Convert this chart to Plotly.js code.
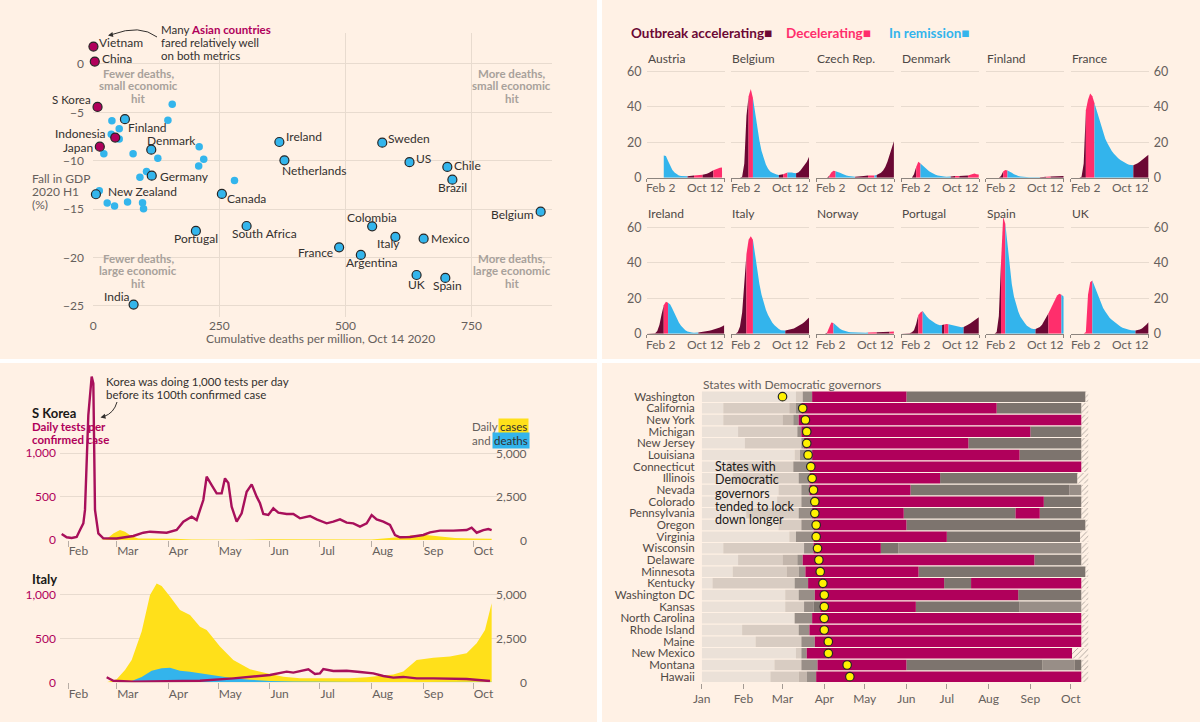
<!DOCTYPE html>
<html>
<head>
<meta charset="utf-8">
<script src="https://cdn.plot.ly/plotly-3.0.1.min.js"></script>
<style>
html,body{margin:0;padding:0;background:#ffffff;}
#chart{width:1200px;height:722px;}
</style>
</head>
<body>
<div id="chart"></div>
<script>
// ======================= DATA =======================
// --- Panel A: cumulative deaths per million vs fall in GDP 2020 H1 ---
const labeledCountries = ["Vietnam","China","S Korea","Indonesia","Japan","Finland","Denmark","Germany","New Zealand","Canada","Portugal","South Africa","India","Ireland","Netherlands","Sweden","US","Chile","Brazil","Belgium","Colombia","Italy","Mexico","France","Argentina","UK","Spain"];
const labeledDeaths = [0.4,3,8.5,43.6,13,62.8,115,116,5.3,255,203.5,304,80,369,379,573,627,702,712,887,553,599,655,487.5,530.5,641,698];
const labeledGdp = [1.8,0.25,-4.44,-7.6,-8.54,-5.7,-8.85,-11.54,-13.46,-13.43,-17.25,-16.74,-24.86,-8.06,-9.95,-8.13,-10.15,-10.64,-11.95,-15.26,-16.77,-17.87,-18.05,-18.94,-19.73,-21.8,-22.1];
const asianCountries = ["Vietnam","China","S Korea","Indonesia","Japan"];
const otherDeaths = [156.6,37,148,51.5,35.7,51.5,210,21,79,128,219,209,105.6,92.5,280,12,27.7,42.2,68,97.7,99.7];
const otherGdp = [-4.16,-5.86,-5.82,-6.7,-7.26,-7.75,-8.54,-9.27,-9.27,-9.74,-9.85,-10.54,-11.12,-11.7,-12.05,-13.09,-14.36,-14.67,-14.26,-14.33,-14.95];
const deathTicks = [0,250,500,750];
const gdpTicks = [0,-5,-10,-15,-20,-25];

// --- Panel B: small multiples, weekly values from Feb 2, phase runs per week interval ---
const smCountries = ["Austria","Belgium","Czech Rep.","Denmark","Finland","France","Ireland","Italy","Norway","Portugal","Spain","UK"];
const smStart = "2020-02-02";
const smEnd = "2020-10-12";
const smTicks = [0,20,40,60];
const austriaVals = [null,null,null,null,null,null,null,null,12.5,12.2,9.4,6.8,4.4,2.9,2.0,1.3,1.0,0.8,0.7,0.8,1.0,1.2,1.3,1.4,1.4,1.5,1.6,1.8,2.2,2.8,3.5,4.2,4.8,5.3,5.6,5.8,null];
const austriaPhases = [["r",19],["a",3],["d",4],["a",5],["d",5]];
const belgiumVals = [0,0,0,0,0,0.5,8,35,46,50,45,36,28,21,15,11,7.5,5,3.5,2.8,2.2,1.8,1.5,1.6,2,2.6,3,3.1,3.0,2.6,2.5,3,4,5.5,7,9,11.8];
const belgiumPhases = [["a",8],["d",2],["r",12],["a",2],["d",2],["r",4],["a",6]];
const czechVals = [0,0,0,0,0,0,1,3,3.9,3.6,3.3,2.8,2.2,1.6,1.2,0.9,0.7,0.6,0.6,0.8,0.9,1.0,1.0,1.1,1.2,1.3,1.3,1.2,1.5,2,2.8,4,6,9,13,17,20.5];
const czechPhases = [["a",6],["d",3],["r",9],["a",6],["d",3],["r",1],["a",8]];
const denmarkVals = [0,0,0,0,0,0,2,6,9,8,6.8,5.6,4.5,3.6,2.9,2.2,1.7,1.3,1.0,0.8,0.7,0.6,0.6,0.7,0.8,0.9,1.0,1.0,1.0,1.1,1.2,1.3,1.6,2.0,2.3,2.0,1.8];
const denmarkPhases = [["a",7],["d",2],["r",14],["a",2],["d",2],["a",4],["d",5]];
const finlandVals = [0,0,0,0,0,0,0,1,3.5,4.3,4.0,3.6,2.8,2.0,1.4,1.0,0.7,0.5,0.4,0.3,0.3,0.3,0.3,0.3,0.3,0.3,0.4,0.5,0.6,0.6,0.7,0.8,0.9,0.9,1.0,1.0,1.0];
const finlandPhases = [["a",8],["d",2],["r",15],["a",3],["d",2],["a",6]];
const franceVals = [0,0,0,0,0,0.5,8,38,44,47.5,46,42,38,33,29,25.5,22,19.5,17,15,13.5,12,11,10,9.2,8.5,7.8,7.3,7.0,7.0,7.5,8.2,9,10,11,12,13];
const francePhases = [["a",7],["d",4],["r",18],["a",7]];
const irelandVals = [0,0,0,0,0.3,1.5,5,11,16,18,17.5,16.5,14,11.5,8.5,6.3,4.5,3.0,2.0,1.3,0.9,0.7,0.6,0.6,0.7,0.8,1.0,1.2,1.4,1.6,1.9,2.2,2.6,3.0,3.5,4.1,4.8];
const irelandPhases = [["a",8],["d",2],["r",14],["a",12]];
const italyVals = [0,0,0,1,4,12,28,45,53,55,53,44,34,28,22,17,13.5,10.5,8,6.2,4.8,3.6,2.6,2.0,1.8,1.8,2.0,2.2,2.5,3.0,3.6,4.2,5.0,5.8,6.8,7.9,9.2];
const italyPhases = [["a",7],["d",3],["r",15],["a",11]];
const norwayVals = [0,0,0,0,0,0.5,3,6.3,6,4.8,3.6,2.8,2.1,1.6,1.2,1.0,0.8,0.7,0.6,0.6,0.5,0.5,0.5,0.5,0.7,0.8,0.8,0.7,0.8,0.8,0.9,0.9,1.0,1.0,1.1,1.2,1.2];
const norwayPhases = [["a",5],["d",3],["r",16],["d",4],["a",6],["d",2]];
const portugalVals = [0,0,0,0,0.2,0.8,2,5.5,10.5,12,12.8,11,9.5,8.3,7.3,6.5,5.8,5.2,4.8,4.9,5.2,5.5,5.3,5.0,4.8,4.5,4.2,3.9,3.7,3.8,4.3,5.0,5.8,6.6,7.5,8.4,9.3];
const portugalPhases = [["a",8],["d",2],["r",9],["a",1],["d",2],["r",7],["a",7]];
const spainVals = [0,0,0,0,0,1,10,40,66,62,50,38,28,21,16,12.5,9.5,7.5,6,4.5,3.5,3.0,2.6,2.6,3.0,3.8,5,7,9,11.5,14,17,19.5,21.5,22.5,22,21];
const spainPhases = [["a",7],["d",2],["r",14],["a",6],["d",6],["r",1]];
const ukVals = [0,0,0,0,0,0,0,1,22,29,30,27,24,20.5,17,14.5,12.5,10.5,9,7.8,6.8,5.8,4.8,4.0,3.4,2.9,2.5,2.2,2.0,1.8,1.8,2.0,2.4,3.0,3.8,5,6.4];
const ukPhases = [["d",10],["r",20],["a",6]];

// --- Panel C: tests per confirmed case and daily cases / deaths ---
const koreaTestDates = ["2020-01-28","2020-01-31","2020-02-03","2020-02-06","2020-02-08","2020-02-10","2020-02-11","2020-02-12","2020-02-13","2020-02-15","2020-02-16","2020-02-17","2020-02-19","2020-02-22","2020-03-01","2020-03-11","2020-03-17","2020-03-21","2020-03-31","2020-04-06","2020-04-10","2020-04-15","2020-04-18","2020-04-22","2020-04-24","2020-04-27","2020-04-30","2020-05-03","2020-05-05","2020-05-07","2020-05-09","2020-05-12","2020-05-15","2020-05-18","2020-05-21","2020-05-24","2020-05-26","2020-05-28","2020-05-31","2020-06-03","2020-06-06","2020-06-11","2020-06-15","2020-06-19","2020-06-25","2020-06-29","2020-07-05","2020-07-09","2020-07-13","2020-07-17","2020-07-21","2020-07-25","2020-07-29","2020-08-01","2020-08-04","2020-08-08","2020-08-12","2020-08-15","2020-08-18","2020-08-24","2020-09-01","2020-09-05","2020-09-11","2020-09-19","2020-09-27","2020-09-30","2020-10-03","2020-10-07","2020-10-10","2020-10-12"];
const koreaTests = [69,31,23,35,115,192,347,1000,1440,1884,1807,346,77,19,17,46,84,96,84,115,211,269,230,461,730,634,538,538,711,657,384,211,308,557,642,500,423,300,288,365,315,300,300,250,277,238,192,211,238,200,192,154,192,288,238,211,173,58,31,35,58,88,108,108,115,142,84,115,127,115];
const koreaCaseDates = ["2020-02-20","2020-02-24","2020-02-28","2020-03-03","2020-03-06","2020-03-10","2020-03-14","2020-03-25","2020-04-05","2020-04-15","2020-05-01","2020-05-15","2020-06-01","2020-06-15","2020-07-01","2020-07-15","2020-08-01","2020-08-15","2020-08-25","2020-09-01","2020-09-10","2020-09-20","2020-10-01","2020-10-12"];
const koreaCases = [0,60,380,580,480,220,90,90,70,30,10,20,40,45,45,40,30,150,270,300,200,110,80,70];
const italyTestDates = ["2020-02-24","2020-02-28","2020-03-11","2020-03-31","2020-04-20","2020-05-10","2020-05-20","2020-06-01","2020-06-11","2020-06-15","2020-06-24","2020-06-28","2020-07-01","2020-07-03","2020-07-09","2020-07-17","2020-07-25","2020-08-02","2020-08-08","2020-08-14","2020-08-20","2020-08-28","2020-09-07","2020-09-27","2020-10-11"];
const italyTests = [57,18,7,11,18,45,64,83,121,110,148,94,102,150,129,132,117,102,72,53,61,45,45,38,15];
const italyCaseDates = ["2020-02-24","2020-03-01","2020-03-06","2020-03-10","2020-03-16","2020-03-21","2020-03-25","2020-03-28","2020-04-02","2020-04-08","2020-04-14","2020-04-20","2020-04-24","2020-05-02","2020-05-10","2020-05-20","2020-05-30","2020-06-09","2020-06-19","2020-07-01","2020-07-19","2020-07-29","2020-08-14","2020-08-20","2020-08-28","2020-09-07","2020-09-17","2020-09-27","2020-10-03","2020-10-08","2020-10-12"];
const italyCases = [0,170,700,1270,2880,4960,5620,5470,4870,4110,3820,3160,2970,2030,1270,740,510,320,230,230,230,280,450,610,1270,1400,1460,1650,2220,2970,4490];
const italyDeathDates = ["2020-02-24","2020-03-01","2020-03-10","2020-03-16","2020-03-22","2020-03-28","2020-04-02","2020-04-08","2020-04-14","2020-04-20","2020-04-26","2020-05-02","2020-05-10","2020-05-20","2020-06-01","2020-06-15","2020-07-01","2020-08-01","2020-09-01","2020-10-12"];
const italyDeaths = [0,5,80,300,650,800,830,650,600,520,430,330,230,150,80,50,25,10,10,30];

// --- Panel D: lockdown stringency by state ---
const states = ["Washington","California","New York","Michigan","New Jersey","Louisiana","Connecticut","Illinois","Nevada","Colorado","Pennsylvania","Oregon","Virginia","Wisconsin","Delaware","Minnesota","Kentucky","Washington DC","Kansas","North Carolina","Rhode Island","Maine","New Mexico","Montana","Hawaii"];
const stateBounds = [
  ["01-01","03-11","03-16","03-23","06-01","10-12"],
  ["01-01","01-17","03-06","03-11","03-15","08-07","10-09"],
  ["01-01","01-17","03-01","03-09","03-13","10-09"],
  ["01-01","01-28","03-12","03-15","09-01","10-09"],
  ["01-01","02-02","03-15","03-17","07-17","10-09"],
  ["01-01","03-10","03-14","03-23","08-24","10-09"],
  ["01-01","01-20","03-09","03-21","10-09"],
  ["01-01","01-24","03-13","03-21","06-26","10-06"],
  ["01-01","02-27","03-15","03-21","06-04","09-30","10-09"],
  ["01-01","02-26","03-15","03-23","09-11","10-09"],
  ["01-01","02-03","03-13","03-23","05-30","08-21","09-08","10-09"],
  ["01-01","02-27","03-15","03-24","06-01","10-12"],
  ["01-01","03-06","03-11","03-24","07-01","10-08"],
  ["01-01","01-17","03-17","03-24","05-13","05-26","10-09"],
  ["01-01","01-28","03-01","03-12","03-16","09-04","10-09"],
  ["01-01","01-24","03-04","03-13","03-18","06-10","10-12"],
  ["01-01","01-09","03-10","03-20","06-29","07-19","10-09"],
  ["01-01","03-03","03-13","03-25","08-23","10-09"],
  ["01-01","03-03","03-17","03-24","03-29","06-08","08-24","10-09"],
  ["01-01","03-10","03-23","10-09"],
  ["01-01","01-31","03-13","03-21","10-09"],
  ["01-01","02-10","03-15","03-25","10-09"],
  ["01-01","03-11","03-15","03-19","10-02"],
  ["01-01","02-24","03-15","03-27","06-01","09-10","10-04","10-09"],
  ["01-01","02-21","03-13","03-19","03-26","10-09"]
];
const stateLevels = [
  [0,1,3,5,4],[0,1,2,3,5,4],[0,1,2,3,5],[0,1,3,5,4],[0,1,3,5,4],[0,1,3,5,4],[0,1,3,5],[0,1,3,5,4],
  [0,1,3,5,4,3],[0,1,3,5,4],[0,1,3,5,4,5,4],[0,1,3,5,4],[0,1,3,5,4],[0,1,3,5,4,3],[0,1,2,3,5,4],
  [0,1,2,3,5,4],[0,1,3,5,4,5],[0,1,3,5,4],[0,1,3,4,5,4,3],[0,3,5],[0,1,3,5],[0,1,3,5],[0,1,3,5],
  [0,1,3,5,4,3,4],[0,1,2,3,5]
];
const stateDots = ["03-01","03-16","03-18","03-19","03-19","03-20","03-22","03-23","03-24","03-25","03-25","03-26","03-26","03-27","03-28","03-29","03-31","04-01","04-01","04-01","04-01","04-04","04-04","04-18","04-20"];
const dataEnd = "10-14";
const monthNames = ["Jan","Feb","Mar","Apr","May","Jun","Jul","Aug","Sep","Oct"];
const monthStarts = ["01-01","02-01","03-01","04-01","05-01","06-01","07-01","08-01","09-01","10-01"];

// ======================= STYLE / HELPERS =======================
const FONT = 'Lato, "Open Sans", sans-serif';
const COL = {
  panel:'#fff1e5', grid:'#e8dbcf', tick:'#66605c', ink:'#33302e', quad:'#a8a19b',
  crimson:'#b0005b', blueDot:'#33b5ec', outline:'#262626',
  acc:'#6b0834', dec:'#ff2e6c', rem:'#33b4ec',
  yellow:'#ffe01a', deaths:'#33b4ec', testLine:'#a8105b'
};
const levelColors = ['#ebe1d8','#d8ccc2','#c3b6ac','#988e87','#7d746e','#b0005b'];
const phaseColor = {a:COL.acc, d:COL.dec, r:COL.rem};

const PX = p => p/1200, PY = p => 1 - p/722;
const layout = {
  width:1200, height:722, autosize:false,
  margin:{l:0,r:0,t:0,b:0,pad:0},
  paper_bgcolor:'#ffffff', plot_bgcolor:'rgba(0,0,0,0)',
  showlegend:false, barmode:'overlay', hovermode:false,
  font:{family:FONT,size:12,color:COL.ink},
  shapes:[], annotations:[]
};
const traces = [];
let nx = 0, ny = 0;
function axisName(ref){ return ref[0]==='x' ? 'xaxis'+ref.slice(1) : 'yaxis'+ref.slice(1); }
function addX(cfg){ nx++; const ref = nx===1?'x':'x'+nx; layout[axisName(ref)] = Object.assign({fixedrange:true}, cfg); return ref; }
function addY(cfg){ ny++; const ref = ny===1?'y':'y'+ny; layout[axisName(ref)] = Object.assign({fixedrange:true}, cfg); return ref; }
function F(size,color,extra){ return Object.assign({family:FONT,size:size,color:color}, extra||{}); }
function txt(t, xpx, ypx, o){
  layout.annotations.push(Object.assign({xref:'paper',yref:'paper',x:PX(xpx),y:PY(ypx),text:t,showarrow:false,
    xanchor:'left',yanchor:'middle',font:F(12,COL.ink)}, o||{}));
}
function lines(arr, xpx, ypx, dy, o){ arr.forEach((t,i)=>txt(t, xpx, ypx+i*dy, o)); }
function doy(md){ const [m,d] = md.split('-').map(Number); return (Date.UTC(2020,m-1,d) - Date.UTC(2020,0,1))/864e5; }
function weekDate(k){ return new Date(Date.UTC(2020,1,2+7*k)).toISOString().slice(0,10); }

// panel backgrounds
[[0,0,597,359],[602,0,1200,359],[0,363,597,722],[602,363,1200,722]].forEach(([x0,y0,x1,y1])=>{
  layout.shapes.push({type:'rect',xref:'paper',yref:'paper',x0:PX(x0),x1:PX(x1),y0:PY(y1),y1:PY(y0),
    fillcolor:COL.panel,line:{width:0},layer:'below'});
});

// ======================= PANEL A =======================
const yA = addY({domain:[PY(317),PY(33)], range:[-26.14,3.2], tickvals:gdpTicks, showgrid:true, gridcolor:COL.grid,
  zeroline:false, showline:false, ticks:'', ticklabelstandoff:8, tickfont:F(12,COL.tick)});
const xA = addX({domain:[PX(93),PX(552)], range:[-0.5,909.5], anchor:yA, tickvals:deathTicks, showgrid:true, gridcolor:COL.grid,
  zeroline:false, showline:false, ticks:'', tickfont:F(12,COL.tick)});
layout[axisName(yA)].anchor = xA;
addY({overlaying:yA, anchor:xA, side:'right', range:[-26.14,3.2], tickvals:gdpTicks, showgrid:false, zeroline:false,
  ticks:'', ticklabelstandoff:4, tickfont:F(12,COL.tick)});

traces.push({type:'scatter',mode:'markers',x:otherDeaths,y:otherGdp,xaxis:xA,yaxis:yA,cliponaxis:false,
  marker:{size:7.5,color:COL.blueDot,line:{width:0}},hoverinfo:'skip'});
traces.push({type:'scatter',mode:'markers',x:labeledDeaths,y:labeledGdp,xaxis:xA,yaxis:yA,cliponaxis:false,
  marker:{size:9,color:labeledCountries.map(c=>asianCountries.includes(c)?COL.crimson:COL.blueDot),line:{width:1.2,color:COL.outline}},
  hoverinfo:'skip'});

const labelPos = {
  "Vietnam":['left',4,4],"China":['left',5,3],"S Korea":['right',-5,7.5],"Indonesia":['right',-7,4],"Japan":['right',-5,-1],
  "Finland":['left',1,-8],"Denmark":['left',-6,9],"Germany":['left',6,-1],"New Zealand":['left',10,3],"Canada":['left',3,-5],
  "Portugal":['center',0,-8],"South Africa":['center',18,-7],"India":['center',-17,8],"Ireland":['left',5,5],
  "Netherlands":['left',-4,-10],"Sweden":['left',4,4],"US":['left',4,4],"Chile":['left',5,1],"Brazil":['center',0,-8],
  "Belgium":['right',-5,-3],"Colombia":['center',0,9],"Italy":['center',-7,-7],"Mexico":['left',5,0],"France":['right',-4,-5],
  "Argentina":['center',11,-8],"UK":['center',0,-10],"Spain":['center',2,-8]
};
labeledCountries.forEach((c,i)=>{
  const [anc,dx,dy] = labelPos[c];
  layout.annotations.push({xref:xA,yref:yA,x:labeledDeaths[i],y:labeledGdp[i],text:c,showarrow:false,
    xanchor:anc,yanchor:'middle',xshift:dx,yshift:dy,font:F(c==='S Korea'?11.5:12,COL.ink)});
});

const quadFont = {font:F(11.5,COL.quad),xanchor:'center'};
lines(['<b>Fewer deaths,</b>','<b>small economic</b>','<b>hit</b>'], 138, 73.3, 12.7, quadFont);
lines(['<b>Fewer deaths,</b>','<b>large economic</b>','<b>hit</b>'], 138, 258.3, 12.6, quadFont);
lines(['<b>More deaths,</b>','<b>small economic</b>','<b>hit</b>'], 511.7, 73.3, 12.7, quadFont);
lines(['<b>More deaths,</b>','<b>large economic</b>','<b>hit</b>'], 511.7, 258.3, 12.6, quadFont);
lines(['Many <b><span style="color:'+COL.crimson+'">Asian countries</span></b>','fared relatively well','on both metrics'], 159, 29.5, 12.9, {font:F(11.5,COL.ink)});
lines(['Fall in GDP','2020 H1','(%)'], 30, 179, 12.7, {font:F(12,COL.tick)});
txt('Cumulative deaths per million, Oct 14 2020', 320, 338.3, {xanchor:'center', font:F(12,COL.tick)});
layout.shapes.push({type:'path',xref:'paper',yref:'paper',
  path:`M ${PX(157)},${PY(37)} Q ${PX(140)},${PY(24)} ${PX(112)},${PY(34.5)}`,line:{color:COL.ink,width:1}});
layout.annotations.push({xref:'paper',yref:'paper',x:PX(108),y:PY(35.5),ax:5,ay:-1,axref:'pixel',ayref:'pixel',
  showarrow:true,arrowhead:2,arrowsize:1,arrowwidth:1,arrowcolor:COL.ink,text:''});

// ======================= PANEL B =======================
const smVals = [austriaVals,belgiumVals,czechVals,denmarkVals,finlandVals,franceVals,irelandVals,italyVals,norwayVals,portugalVals,spainVals,ukVals];
const smPhases = [austriaPhases,belgiumPhases,czechPhases,denmarkPhases,finlandPhases,francePhases,irelandPhases,italyPhases,norwayPhases,portugalPhases,spainPhases,ukPhases];

function phaseSegments(vals, runs){
  const out = []; let i = 0;
  runs.forEach(([p,n])=>{
    const xs = [], ys = [];
    for(let k=i;k<=i+n;k++){ if(vals[k]!==null && vals[k]!==undefined){ xs.push(weekDate(k)); ys.push(vals[k]); } }
    if(xs.length>1) out.push({p, x:xs, y:ys});
    i += n;
  });
  return out;
}

smCountries.forEach((name,idx)=>{
  const row = Math.floor(idx/6), col = idx%6;
  const left = 646.5 + 84.85*col, right = left + 78;
  const top = row===0 ? 67.8 : 213.1, bottom = row===0 ? 177.7 : 333.7;
  const yr = addY({domain:[PY(bottom),PY(top)], range:[0,row===0?62:68], tickvals:smTicks, showgrid:true, gridcolor:COL.grid,
    zeroline:false, showline:false, ticks:'', showticklabels:(col===0||col===5), side:(col===5?'right':'left'),
    ticklabelstandoff:4, tickfont:F(12.5,COL.tick)});
  const xr = addX({domain:[PX(left),PX(right)], anchor:yr, type:'date', range:[smStart,smEnd], tickvals:[smStart,smEnd],
    showticklabels:false, ticks:'outside', ticklen:3, tickcolor:'#8c847e', showline:true, linecolor:'#8c847e', linewidth:1,
    showgrid:false, zeroline:false});
  layout[axisName(yr)].anchor = xr;
  phaseSegments(smVals[idx], smPhases[idx]).forEach(s=>{
    traces.push({type:'scatter',mode:'lines',x:s.x,y:s.y,fill:'tozeroy',fillcolor:phaseColor[s.p],
      line:{width:0,color:phaseColor[s.p]},xaxis:xr,yaxis:yr,hoverinfo:'skip'});
  });
  txt(name, left-1, row===0?58:213.7, {font:F(12,'#4d4845')});
  layout.annotations.push({xref:xr,yref:'paper',x:smStart,y:PY(row===0?188:344),text:'Feb 2',showarrow:false,
    xanchor:'left',yanchor:'middle',xshift:-2,font:F(12,COL.tick)});
  layout.annotations.push({xref:xr,yref:'paper',x:smEnd,y:PY(row===0?188:344),text:'Oct 12',showarrow:false,
    xanchor:'right',yanchor:'middle',xshift:2,font:F(12,COL.tick)});
});
txt('<b>Outbreak accelerating■</b>', 629, 33, {font:F(13.5,COL.acc)});
txt('<b>Decelerating■</b>', 784, 33, {font:F(13.5,COL.dec)});
txt('<b>In remission■</b>', 887, 33, {font:F(13.5,COL.rem)});

// ======================= PANEL C =======================
function tsPanel(domTop, domBot, leftMax, rightMax, caseX, caseY, deathX, deathY, testX, testY){
  const yb = addY({domain:[PY(domBot),PY(domTop)], range:[0,rightMax], tickvals:[0,2500,5000], showticklabels:false,
    showgrid:true, gridcolor:COL.grid, zeroline:false, ticks:''});
  const xb = addX({domain:[PX(60),PX(497)], anchor:yb, type:'date', range:['2020-01-27','2020-10-15 05:00'],
    tick0:'2020-02-01', dtick:'M1', tickformat:'%b', ticks:'outside', ticklen:6, tickcolor:'#b8aea6',
    ticklabelposition:'outside right', showgrid:false, zeroline:false, showline:false, tickfont:F(12,COL.tick)});
  layout[axisName(yb)].anchor = xb;
  const yt = addY({overlaying:yb, anchor:xb, side:'left', domain:[PY(domBot),PY(domTop)], range:[0,leftMax],
    tickvals:[0,500,1000], ticktext:['0','500','1,000'], showgrid:false, zeroline:false, ticks:'',
    ticklabelstandoff:3, tickfont:F(12,COL.crimson)});
  traces.push({type:'scatter',mode:'lines',x:caseX,y:caseY,fill:'tozeroy',fillcolor:COL.yellow,line:{width:0,color:COL.yellow},
    xaxis:xb,yaxis:yb,hoverinfo:'skip'});
  if(deathX) traces.push({type:'scatter',mode:'lines',x:deathX,y:deathY,fill:'tozeroy',fillcolor:COL.deaths,
    line:{width:0,color:COL.deaths},xaxis:xb,yaxis:yb,hoverinfo:'skip'});
  traces.push({type:'scatter',mode:'lines',x:testX,y:testY,line:{color:COL.testLine,width:2.4},xaxis:xb,yaxis:yt,hoverinfo:'skip'});
  [[0,'0'],[2500,'2,500'],[5000,'5,000']].forEach(([v,t])=>{
    layout.annotations.push({xref:'paper',yref:yb,x:PX(529),y:v,text:t,showarrow:false,xanchor:'right',yanchor:'middle',font:F(12,COL.tick)});
  });
}
tsPanel(375, 540, 1903, 9516, koreaCaseDates, koreaCases, null, null, koreaTestDates, koreaTests);
tsPanel(582, 682.3, 1140, 5699, italyCaseDates, italyCases, italyDeathDates, italyDeaths, italyTestDates, italyTests);

txt('<b>S Korea</b>', 30, 413.3, {font:F(13,'#1a1817')});
lines(['<b>Daily tests per</b>','<b>confirmed case</b>'], 30, 426.7, 13.3, {font:F(11.5,COL.crimson)});
txt('Daily', 470, 426.7, {font:F(11.5,COL.tick)});
txt('cases', 498, 426.7, {font:F(11.5,COL.ink), bgcolor:COL.yellow, borderpad:1});
txt('and', 470, 440.2, {font:F(11.5,COL.tick)});
txt('deaths', 492, 440.2, {font:F(11.5,COL.ink), bgcolor:COL.deaths, borderpad:1});
lines(['Korea was doing 1,000 tests per day','before its 100th confirmed case'], 103.5, 381.7, 12.8, {font:F(11.5,COL.ink)});
layout.shapes.push({type:'path',xref:'paper',yref:'paper',
  path:`M ${PX(117)},${PY(402)} Q ${PX(114)},${PY(413)} ${PX(104)},${PY(416.5)}`,line:{color:COL.ink,width:1}});
layout.annotations.push({xref:'paper',yref:'paper',x:PX(100.5),y:PY(417.5),ax:4,ay:-1,axref:'pixel',ayref:'pixel',
  showarrow:true,arrowhead:2,arrowsize:1,arrowwidth:1,arrowcolor:COL.ink,text:''});
txt('<b>Italy</b>', 30, 579, {font:F(13,'#1a1817')});

// ======================= PANEL D =======================
const yS = addY({domain:[PY(682.5),PY(390.8)], type:'category', categoryorder:'array', categoryarray:states,
  tickmode:'array', tickvals:states, ticktext:states,
  range:[24.5,-0.5], showgrid:false, zeroline:false, showline:false, ticks:'', ticklabelstandoff:6,
  tickfont:F(11.5,'#4f4844')});
const xS = addX({domain:[PX(701.7),PX(1089.6)], anchor:yS, range:[0,288], tickvals:monthStarts.map(doy), ticktext:monthNames,
  ticks:'outside', ticklen:5, tickcolor:'#a39a93', showgrid:false, zeroline:false, showline:false, tickfont:F(12,COL.tick)});
layout[axisName(yS)].anchor = xS;

levelColors.forEach((color,L)=>{
  const ys=[], bs=[], ws=[];
  states.forEach((s,i)=>{
    stateLevels[i].forEach((lv,k)=>{
      if(lv===L){ const a=doy(stateBounds[i][k]), b=doy(stateBounds[i][k+1]); ys.push(s); bs.push(a); ws.push(b-a); }
    });
  });
  traces.push({type:'bar',orientation:'h',y:ys,x:ws,base:bs,width:0.9,marker:{color:color,line:{width:0}},
    xaxis:xS,yaxis:yS,hoverinfo:'skip'});
});
(function(){
  const ys=[], bs=[], ws=[]; const endD = doy(dataEnd);
  states.forEach((s,i)=>{ const last = doy(stateBounds[i][stateBounds[i].length-1]); if(last<endD){ ys.push(s); bs.push(last); ws.push(endD-last); } });
  traces.push({type:'bar',orientation:'h',y:ys,x:ws,base:bs,width:0.9,
    marker:{color:COL.panel,line:{width:0},pattern:{shape:'/',fgcolor:'#a39a93',bgcolor:COL.panel,size:4,solidity:0.2}},
    xaxis:xS,yaxis:yS,hoverinfo:'skip'});
})();
traces.push({type:'scatter',mode:'markers',x:stateDots.map(doy),y:states,xaxis:xS,yaxis:yS,cliponaxis:false,
  marker:{size:8.5,color:'#fff200',line:{width:1.2,color:'#262626'}},hoverinfo:'skip'});

txt('States with Democratic governors', 701, 384, {font:F(12,COL.tick)});
lines(['States with','Democratic','governors','tended to lock','down longer'], 713, 466.7, 13.25, {font:F(12.5,'#1a1817')});

Plotly.newPlot('chart', traces, layout, {staticPlot:true, displayModeBar:false});
</script>
</body>
</html>
